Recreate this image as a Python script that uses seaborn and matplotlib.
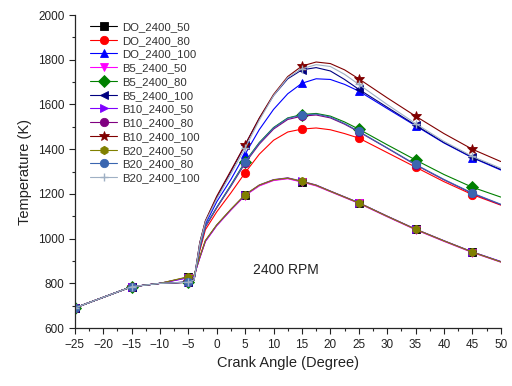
import matplotlib
matplotlib.use('Agg')
import matplotlib.pyplot as plt
import seaborn as sns
from matplotlib.ticker import MultipleLocator

# crank angle grid used for the curves, markers only at the measured angles
angle = [-25, -15, -10, -5, -4, -3, -2, 0, 2.5, 5, 7.5, 10, 12.5, 15, 17.5,
         20, 22.5, 25, 30, 35, 40, 45, 50]
mark_angle = [-25, -15, -5, 5, 15, 25, 35, 45]

do_50 = [690, 785, 800, 828, 835, 915, 990, 1060, 1130, 1195, 1238, 1262, 1270,
         1255, 1238, 1212, 1186, 1160, 1100, 1042, 990, 940, 897]
do_80 = [690, 785, 800, 806, 815, 945, 1040, 1120, 1205, 1295, 1378, 1440, 1477,
         1490, 1495, 1487, 1470, 1450, 1385, 1320, 1255, 1197, 1150]
do_100 = [690, 785, 800, 806, 815, 970, 1065, 1165, 1265, 1378, 1488, 1578, 1648,
          1695, 1715, 1712, 1690, 1660, 1582, 1505, 1428, 1362, 1307]
b5_50 = [690, 785, 800, 826, 833, 912, 987, 1058, 1128, 1193, 1236, 1260, 1268,
         1253, 1236, 1210, 1184, 1158, 1098, 1040, 988, 938, 895]
b5_80 = [690, 785, 800, 805, 815, 958, 1055, 1140, 1240, 1345, 1430, 1497, 1540,
         1555, 1560, 1548, 1522, 1490, 1420, 1352, 1287, 1230, 1186]
b5_100 = [690, 785, 800, 805, 815, 980, 1078, 1185, 1300, 1420, 1538, 1640, 1715,
          1755, 1765, 1750, 1712, 1668, 1588, 1508, 1430, 1364, 1310]
b10_50 = [690, 785, 800, 825, 832, 914, 989, 1060, 1130, 1196, 1240, 1264, 1272,
          1257, 1240, 1213, 1187, 1161, 1101, 1043, 991, 941, 898]
b10_80 = [690, 785, 800, 805, 815, 955, 1052, 1138, 1235, 1338, 1423, 1490, 1533,
          1548, 1553, 1540, 1512, 1478, 1405, 1330, 1263, 1202, 1152]
b10_100 = [690, 785, 800, 805, 815, 980, 1080, 1190, 1305, 1420, 1540, 1645, 1725,
           1772, 1790, 1783, 1755, 1715, 1630, 1548, 1470, 1400, 1345]
b20_50 = [690, 785, 800, 830, 836, 917, 992, 1062, 1132, 1197, 1240, 1263, 1271,
          1256, 1239, 1212, 1186, 1160, 1100, 1042, 990, 940, 896]
b20_80 = [690, 785, 800, 806, 815, 958, 1055, 1140, 1238, 1342, 1428, 1495, 1538,
          1553, 1557, 1544, 1515, 1480, 1406, 1332, 1265, 1204, 1154]
b20_100 = [690, 785, 800, 805, 815, 975, 1075, 1178, 1290, 1405, 1530, 1640, 1720,
           1760, 1778, 1770, 1735, 1690, 1600, 1515, 1435, 1368, 1315]

series = [
    ('DO_2400_50', do_50, '#000000', 's'),
    ('DO_2400_80', do_80, '#ff0000', 'o'),
    ('DO_2400_100', do_100, '#0000ff', '^'),
    ('B5_2400_50', b5_50, '#ff00ff', 'v'),
    ('B5_2400_80', b5_80, '#008000', 'D'),
    ('B5_2400_100', b5_100, '#000080', '<'),
    ('B10_2400_50', b10_50, '#8000ff', '>'),
    ('B10_2400_80', b10_80, '#800080', 'o'),
    ('B10_2400_100', b10_100, '#800000', '*'),
    ('B20_2400_50', b20_50, '#808000', 'h'),
    ('B20_2400_80', b20_80, '#3a66b0', 'o'),
    ('B20_2400_100', b20_100, '#9fb0c4', '+'),
]

sns.set_style('ticks')
plt.rcParams['font.family'] = ['Liberation Sans', 'DejaVu Sans']

fig, ax = plt.subplots(figsize=(5.12, 3.86), dpi=100)
fig.subplots_adjust(left=0.146, right=0.978, top=0.961, bottom=0.150)

idx = [angle.index(a) for a in mark_angle]
for name, vals, color, mk in series:
    sns.lineplot(x=angle, y=vals, ax=ax, color=color, marker=mk, markevery=idx,
                 markersize=6 if mk != '*' else 7.5,
                 markeredgewidth=0.6 if mk != '+' else 1.0,
                 markeredgecolor=color, linewidth=0.8, label=name, estimator=None,
                 sort=False)

ax.set_xlim(-25, 50)
ax.set_ylim(600, 2000)
ax.xaxis.set_major_locator(MultipleLocator(5))
ax.xaxis.set_minor_locator(MultipleLocator(2.5))
ax.yaxis.set_major_locator(MultipleLocator(200))
ax.yaxis.set_minor_locator(MultipleLocator(100))
ax.tick_params(which='major', length=4, width=0.8, labelsize=8.5, colors='#222222')
ax.tick_params(which='minor', length=2.5, width=0.8)
sns.despine(ax=ax)
for sp in ax.spines.values():
    sp.set_linewidth(0.9)

ax.set_xlabel('Crank Angle (Degree)', fontsize=10.5, color='#222222', labelpad=4)
ax.set_ylabel('Temperature (K)', fontsize=10.5, color='#222222', labelpad=4)
ax.text(12.2, 860, '2400 RPM', fontsize=10, ha='center', va='center', color='#222222')

leg = ax.legend(loc='upper left', frameon=False, fontsize=8.2, handlelength=2.4,
                labelspacing=0.33, borderaxespad=0.2, handletextpad=0.4,
                bbox_to_anchor=(0.02, 1.0))
for t in leg.get_texts():
    t.set_color('#333333')

plt.savefig('out.png', dpi=100)
plt.close()
